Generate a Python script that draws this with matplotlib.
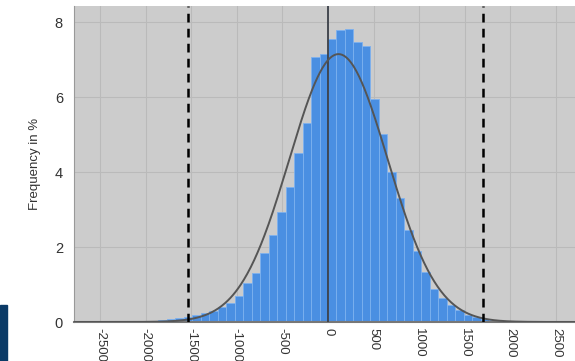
import numpy as np
import matplotlib
matplotlib.use("Agg")
import matplotlib.pyplot as plt
from matplotlib.patches import Rectangle

plt.rcParams['font.family'] = ['Liberation Sans', 'DejaVu Sans']

# histogram: bin index k -> bin [k*width, (k+1)*width)
bin_width = 93
bin_index = list(range(-27, 26))
freq_pct = [0.01, 0.01, 0.02, 0.02, 0.03, 0.03, 0.04, 0.06, 0.08, 0.10,
            0.13, 0.18, 0.23, 0.29, 0.39, 0.52, 0.70, 1.03, 1.30, 1.83,
            2.32, 2.94, 3.61, 4.50, 5.30, 7.06, 7.14, 7.56, 7.80, 7.83,
            7.47, 7.37, 5.96, 5.03, 4.01, 3.30, 2.45, 1.90, 1.34, 0.88,
            0.63, 0.46, 0.31, 0.20, 0.13, 0.08, 0.05, 0.04, 0.03, 0.02,
            0.02, 0.01, 0.01]

# fitted normal curve
fit_mean = 115
fit_sigma = 540
fit_peak = 7.15

zero_line = 0
limit_lines = [-1537, 1702]

x_ticks = [-2500, -2000, -1500, -1000, -500, 0, 500, 1000, 1500, 2000, 2500]
y_ticks = [0, 2, 4, 6, 8]

fig = plt.figure(figsize=(5.75, 3.61), dpi=100)
ax = fig.add_axes([0.1287, 0.108, 0.8713, 0.875])
ax.set_facecolor('#cccccc')

left_edges = [k * bin_width for k in bin_index]
ax.bar(left_edges, freq_pct, width=bin_width, align='edge',
       color='#4a8fe2', edgecolor='#7db1ef', linewidth=0.6, zorder=2)

xs = np.linspace(-2800, 2800, 600)
ys = fit_peak * np.exp(-0.5 * ((xs - fit_mean) / fit_sigma) ** 2)
ax.plot(xs, ys, color='#555555', lw=1.4, zorder=4)

ax.axvline(zero_line, color='#3b4048', lw=1.3, zorder=3)
for xv in limit_lines:
    ax.axvline(xv, color='black', lw=1.8, ls=(0, (3.5, 2.5)), zorder=5)

ax.set_xlim(-2784, 2707)
ax.set_ylim(0, 8.43)
ax.set_xticks(x_ticks)
ax.set_xticklabels([str(v) for v in x_ticks], rotation=270, fontsize=9.5, color='#333333')
ax.set_yticks(y_ticks)
ax.set_yticklabels([str(v) for v in y_ticks], fontsize=10.5, color='#333333')
ax.tick_params(length=0, pad=8)
ax.tick_params(axis='x', pad=4)
ax.grid(True, color='#bababa', lw=0.8, zorder=0)
ax.set_axisbelow(True)
ax.set_ylabel('Frequency in %', fontsize=9.5, color='#333333', labelpad=10)

for s in ['top', 'right']:
    ax.spines[s].set_visible(False)
ax.spines['left'].set_color('#999999')
ax.spines['bottom'].set_color('#777777')
ax.spines['bottom'].set_linewidth(1.5)

fig.patches.append(Rectangle((0, 0), 6.7 / 575, 56 / 361, transform=fig.transFigure,
                             color='#0a3a66', zorder=10))

fig.savefig('out.png', dpi=100)
